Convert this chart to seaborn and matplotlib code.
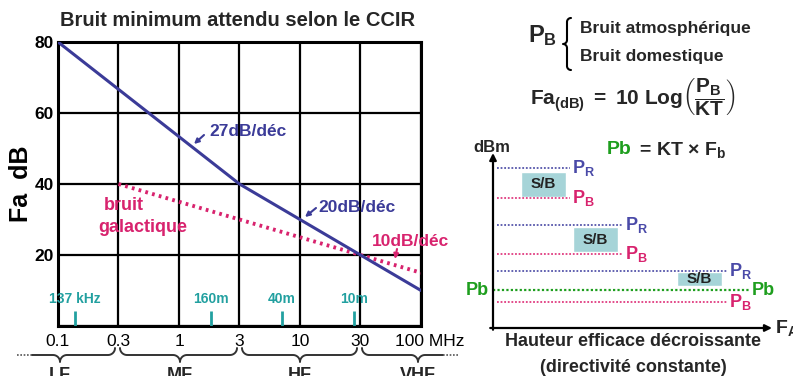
import numpy as np
import seaborn as sns
import matplotlib.pyplot as plt
import matplotlib.transforms as mtransforms
from matplotlib.ticker import NullLocator

sns.set_theme(style="white")
plt.rcParams['font.family'] = ['Liberation Sans', 'DejaVu Sans']
plt.rcParams['mathtext.fontset'] = 'custom'
plt.rcParams['mathtext.rm'] = 'Liberation Sans'
plt.rcParams['mathtext.bf'] = 'Liberation Sans:bold'
plt.rcParams['mathtext.it'] = 'Liberation Sans:italic'

# --- left chart data (MHz / dB) ---
freq_ticks = [0.1, 0.316, 1, 3.16, 10, 31.6, 100]
freq_labels = ['0.1', '0.3', '1', '3', '10', '30', '100 MHz']
fa_ticks = [0, 20, 40, 60, 80]
fa_labels = ['', '20', '40', '60', '80']

ccir_freq = [0.1, 3.16, 31.6, 100]
ccir_fa = [80, 40, 20, 10]
galac_freq = [0.316, 31.6, 100]
galac_fa = [40, 20, 15]

marker_freq = [0.137, 1.85, 7.1, 28]
marker_labels = ['137 kHz', '160m', '40m', '10m']

bands = ['LF', 'MF', 'HF', 'VHF']

# --- right chart data (arbitrary dBm / arbitrary F_A) ---
pr_levels = [91.4, 58.9, 32.6]
pb_levels = [74.3, 42.3, 14.9]
level_ends = [27.6, 46.6, 83.9]
sb_left = [10.0, 28.7, 65.9]
sb_right = [26.2, 44.8, 82.1]
sb_top = [89.1, 57.7, 32.0]
sb_bottom = [74.9, 43.4, 24.0]
pb_floor = 21.7
pb_floor_end = 92.1

blue = '#3b3b98'
pink = '#d8236e'
teal = '#22a0a0'
green = '#1e9e1e'
box_col = '#a6d4d8'

W, H = 793, 376
fig = plt.figure(figsize=(W / 100, H / 100), dpi=100)


def px_axes(x0, y0, x1, y1, **kw):
    return fig.add_axes([x0 / W, 1 - y1 / H, (x1 - x0) / W, (y1 - y0) / H], **kw)


# ---------------- left chart ----------------
ax = px_axes(58, 42, 421, 326)
ax.set_xscale('log')
sns.lineplot(x=ccir_freq, y=ccir_fa, ax=ax, color=blue, lw=2.2, zorder=4)
sns.lineplot(x=galac_freq, y=galac_fa, ax=ax, color=pink, lw=2.8,
             linestyle=(0, (0.7, 1.1)), zorder=3)
ax.set_xlim(0.1, 100)
ax.set_ylim(0, 80)
ax.set_xticks(freq_ticks)
ax.set_xticklabels(freq_labels, fontsize=12.5)
ax.xaxis.set_minor_locator(NullLocator())
ax.set_yticks(fa_ticks)
ax.set_yticklabels(fa_labels, fontsize=12.5, fontweight='bold')
ax.grid(True, color='black', lw=1.6)
ax.tick_params(length=0, colors='black')
ax.tick_params(axis='x', pad=6)
ax.tick_params(axis='y', pad=3)
for s in ax.spines.values():
    s.set_color('black')
    s.set_linewidth(2.2)
last = ax.get_xticklabels()[-1]
last.set_ha('left')
last.set_transform(last.get_transform() +
                   mtransforms.ScaledTranslation(-0.26, 0, fig.dpi_scale_trans))
ax.set_ylabel('Fa  dB', fontsize=18, fontweight='bold', color='black')
ax.yaxis.set_label_coords(-0.068, 0.5)

ax.vlines(marker_freq, 0, 4.2, color=teal, lw=2, zorder=5)
for f, lab in zip(marker_freq, marker_labels):
    ax.text(f, 7.6, lab, ha='center', va='center', color=teal,
            fontsize=10, fontweight='bold')

# ---------------- right chart ----------------
axr = px_axes(493, 153, 772, 328)
axr.set_xlim(0, 100)
axr.set_ylim(0, 100)
axr.axis('off')
for l, r, t, b in zip(sb_left, sb_right, sb_top, sb_bottom):
    axr.bar(l, t - b, width=r - l, bottom=b, align='edge', color=box_col, zorder=1)
    axr.text((l + r) / 2, (t + b) / 2, 'S/B', ha='center', va='center',
             fontsize=11, fontweight='bold', color='#222222', zorder=3)
axr.hlines(pr_levels, 1.4, level_ends, color='#5555aa', lw=1.3,
           linestyles=(0, (1, 1)), zorder=2)
axr.hlines(pb_levels, 1.4, level_ends, color='#e03c80', lw=1.3,
           linestyles=(0, (1, 1)), zorder=2)
axr.hlines([pb_floor], 0, [pb_floor_end], color=green, lw=1.6,
           linestyles=(0, (1, 1)), zorder=2)
for y, x in zip(pr_levels, level_ends):
    axr.text(x + 0.6, y, r'$\mathbf{P_R}$', color='#4a4aa8', fontsize=13,
             ha='left', va='center')
for y, x in zip(pb_levels, level_ends):
    axr.text(x + 0.6, y, r'$\mathbf{P_B}$', color=pink, fontsize=13,
             ha='left', va='center')
axr.text(-1.5, pb_floor, 'Pb', color=green, fontsize=13, fontweight='bold',
         ha='right', va='center')
axr.text(pb_floor_end + 0.5, pb_floor, 'Pb', color=green, fontsize=13,
         fontweight='bold', ha='left', va='center')
arrow = dict(arrowstyle='-|>', lw=1.6, color='black', mutation_scale=10,
             shrinkA=0, shrinkB=0)
axr.annotate('', xy=(0, 100), xytext=(0, -1), arrowprops=arrow,
             annotation_clip=False)
axr.annotate('', xy=(100, 0), xytext=(-1, 0), arrowprops=arrow,
             annotation_clip=False)

# ---------------- overlay texts / braces ----------------
ov = fig.add_axes([0, 0, 1, 1], zorder=10)
ov.set_xlim(0, W)
ov.set_ylim(H, 0)
ov.axis('off')
ov.patch.set_alpha(0)

ov.text(238, 20, 'Bruit minimum attendu selon le CCIR', ha='center',
        va='center', fontsize=14.5, fontweight='bold')

small_arrow = dict(arrowstyle='-|>', lw=1.5, mutation_scale=7, shrinkA=0, shrinkB=0)
ov.text(209, 132, '27dB/déc', color=blue, fontsize=12.5, fontweight='bold',
        ha='left', va='center')
ov.annotate('', xy=(194, 144), xytext=(204, 135),
            arrowprops=dict(color=blue, **small_arrow))
ov.text(318, 207, '20dB/déc', color=blue, fontsize=12.5, fontweight='bold',
        ha='left', va='center')
ov.annotate('', xy=(305, 217), xytext=(316, 208),
            arrowprops=dict(color=blue, **small_arrow))
ov.text(372, 241, '10dB/déc', color=pink, fontsize=12.5, fontweight='bold',
        ha='left', va='center')
ov.annotate('', xy=(395, 259), xytext=(397, 249),
            arrowprops=dict(color=pink, **small_arrow))
ov.text(124, 205, 'bruit', color=pink, fontsize=13, fontweight='bold',
        ha='center', va='center')
ov.text(143, 227, 'galactique', color=pink, fontsize=13, fontweight='bold',
        ha='center', va='center')


def brace_path(x0, x1, tip, y, r, hook_l=True, hook_r=True):
    t = np.linspace(0, np.pi / 2, 15)
    xs, ys = [], []
    # left end
    if hook_l:
        xs += list(x0 + r - r * np.cos(t)); ys += list(y + r * np.sin(t))
    else:
        xs += [x0]; ys += [y + r]
    # down to the tip
    xs += list(tip - r + r * np.sin(t)); ys += list(y + 2 * r - r * np.cos(t))
    # back up from the tip
    xs += list(tip + r - r * np.cos(t)); ys += list(y + 2 * r - r * np.sin(t))
    # right end
    if hook_r:
        xs += list(x1 - r + r * np.sin(t)); ys += list(y + r * np.cos(t))
    else:
        xs += [x1]; ys += [y + r]
    return np.array(xs), np.array(ys)


bw = dict(color='#333333', lw=1.4)
for (x0, x1, tip, hl, hr) in [(32, 115, 60, False, True), (120, 237, 180, True, True),
                              (242, 357, 300, True, True), (362, 443, 418, True, False)]:
    bx, by = brace_path(x0, x1, tip, 348, 7, hl, hr)
    ov.plot(bx, by, **bw)
ov.plot([17, 32], [355, 355], color='#555555', lw=1.2, linestyle=(0, (1, 1)))
ov.plot([443, 458], [355, 355], color='#555555', lw=1.2, linestyle=(0, (1, 1)))
for x, b in zip([60, 180, 300, 418], bands):
    ov.text(x, 367, b, ha='center', va='top', fontsize=13, fontweight='bold')

# vertical brace top right
vy, vx = brace_path(18, 70, 44, 0, 4)
ov.plot(571 - vx, vy, color='black', lw=1.5)
ov.text(528, 36, r'$\mathbf{P_B}$', fontsize=17, ha='left', va='center')
ov.text(580, 29, 'Bruit atmosphérique', fontsize=12.5, fontweight='bold',
        ha='left', va='center')
ov.text(580, 57, 'Bruit domestique', fontsize=12.5, fontweight='bold',
        ha='left', va='center')
ov.text(633, 97, r'$\mathbf{Fa}_{\mathbf{(dB)}}\mathbf{\ =\ 10\ Log}\left(\dfrac{\mathbf{P_B}}{\mathbf{KT}}\right)$',
        fontsize=15, ha='center', va='center')
ov.text(632, 150, 'Pb', color=green, fontsize=14, fontweight='bold',
        ha='right', va='center')
ov.text(634, 150, r' = KT × $\mathbf{F_b}$', fontsize=14, fontweight='bold',
        ha='left', va='center')
ov.text(492, 148, 'dBm', fontsize=12, fontweight='bold', ha='center', va='center')
ov.text(775, 328, r'$\mathbf{F_A}$', fontsize=14, ha='left', va='center')
ov.text(633, 342, 'Hauteur efficace décroissante', fontsize=13,
        fontweight='bold', ha='center', va='center')
ov.text(633, 368, '(directivité constante)', fontsize=13, fontweight='bold',
        ha='center', va='center')

fig.savefig('out.png', dpi=100)
